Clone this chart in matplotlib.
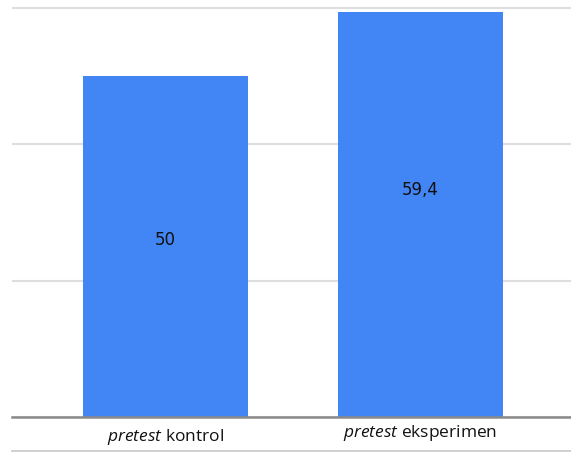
import matplotlib
matplotlib.use("Agg")
import matplotlib.pyplot as plt
from matplotlib.lines import Line2D
from matplotlib.transforms import ScaledTranslation

plt.rcParams['font.family'] = ['Open Sans', 'DejaVu Sans']
plt.rcParams['mathtext.fontset'] = 'custom'
plt.rcParams['mathtext.it'] = 'Open Sans:italic'
plt.rcParams['mathtext.rm'] = 'Open Sans'

# data
kelompok = [r'$\mathit{pretest}$ kontrol', r'$\mathit{pretest}$ eksperimen']
nilai = [50, 59.4]
label_nilai = ['50', '59,4']

# where the value text sits inside each bar (fraction of bar height)
posisi_label = [0.52, 0.56]

fig = plt.figure(figsize=(5.71, 4.53), dpi=100)
ax = fig.add_axes([12 / 571, 1 - 417 / 453, 1 - 12 / 571, 417 / 453])

x = list(range(len(nilai)))
ax.bar(x, nilai, width=0.648, color='#4285F4', zorder=3)

for xi, v, t, f in zip(x, nilai, label_nilai, posisi_label):
    ax.text(xi, v * f, t, ha='center', va='center', fontsize=12,
            color='#111111', family='DejaVu Sans', zorder=4)

ax.set_xlim(-0.603, 1.593)
ax.set_ylim(0, 61.2)
ax.set_yticks([0, 20, 40, 60])
ax.yaxis.grid(True, color='#dedede', linewidth=1.5, zorder=0)
ax.tick_params(left=False, labelleft=False, bottom=False, pad=4)
ax.set_xticks(x)
ax.set_xticklabels(kelompok, fontsize=12.5, color='#111111')
# second label sits a little higher
lbls = ax.get_xticklabels()
lbls[1].set_transform(lbls[1].get_transform() + ScaledTranslation(0, 4 / 100, fig.dpi_scale_trans))

for s in ['left', 'right', 'top']:
    ax.spines[s].set_visible(False)
ax.spines['bottom'].set_color('#8a8a8a')
ax.spines['bottom'].set_linewidth(1.8)
ax.spines['bottom'].set_zorder(5)

# thin rule under the labels
fig.add_artist(Line2D([12 / 571, 1], [1 - 451 / 453, 1 - 451 / 453],
                      color='#c8c8c8', linewidth=1.2, transform=fig.transFigure))

fig.savefig('out.png', dpi=100, facecolor='white')
